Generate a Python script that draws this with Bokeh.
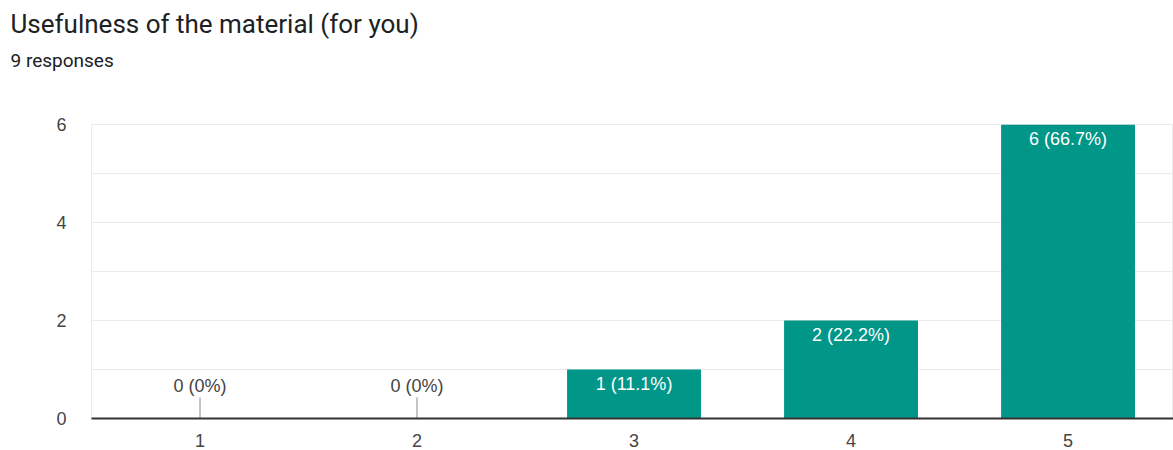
from bokeh.plotting import figure
from bokeh.models import Title, ColumnDataSource, FixedTicker
from bokeh.core.properties import value
from bokeh.embed import file_html
from bokeh.resources import INLINE

title_text = "Usefulness of the material (for you)"
subtitle_text = "9 responses"
categories = [1, 2, 3, 4, 5]
counts = [0, 0, 1, 2, 6]
bar_labels = ["0 (0%)", "0 (0%)", "1 (11.1%)", "2 (22.2%)", "6 (66.7%)"]
y_ticks = [0, 2, 4, 6]

TFONT = "Roboto"
FONT = "Liberation Sans"
TEAL = "#009688"

p = figure(width=1173, height=450, x_range=(0.5, 5.486), y_range=(0, 6),
           output_backend="svg", toolbar_location=None,
           min_border_left=91, min_border_right=0, min_border_bottom=32, min_border_top=124)
p.title = None
# spacer between the frame and the subtitle
p.add_layout(Title(text=" ", text_font_size="1px", standoff=42), "above")
p.add_layout(Title(text=subtitle_text, align="left", offset=-81, text_font=TFONT,
                   text_font_size="19px", text_font_style="normal", text_color="#202124",
                   standoff=16), "above")
p.add_layout(Title(text=title_text, align="left", offset=-81, text_font=TFONT,
                   text_font_size="26px", text_font_style="normal", text_color="#202124",
                   standoff=0), "above")

nonzero = [i for i, c in enumerate(counts) if c > 0]
zero = [i for i, c in enumerate(counts) if c == 0]
src = ColumnDataSource(dict(x=[categories[i] for i in nonzero], top=[counts[i] for i in nonzero],
                            lab=[bar_labels[i] for i in nonzero]))
zsrc = ColumnDataSource(dict(x=[categories[i] for i in zero], top=[counts[i] for i in zero],
                             lab=[bar_labels[i] for i in zero]))

p.vbar(x="x", top="top", bottom=0, width=0.617, source=src, fill_color=TEAL, line_color=None)
p.text(x="x", y="top", text="lab", source=src, text_align="center", text_baseline="top",
       y_offset=4, text_color="white", text_font=value(FONT), text_font_size="18px")

p.segment(x0="x", y0="top", x1="x", y1=0.43, source=zsrc, line_color="#888888", line_width=1)
p.text(x="x", y=0.45, text="lab", source=zsrc, text_align="center", text_baseline="bottom",
       text_color="#444444", text_font=value(FONT), text_font_size="18px")

p.xgrid.visible = False
p.ygrid.ticker = FixedTicker(ticks=[0, 1, 2, 3, 4, 5, 6])
p.ygrid.grid_line_color = "#ebebeb"
p.outline_line_color = "#ebebeb"

p.yaxis.ticker = FixedTicker(ticks=y_ticks)
p.yaxis.axis_line_color = None
p.yaxis.major_tick_line_color = None
p.yaxis.minor_tick_line_color = None
p.yaxis.major_label_standoff = 19
p.yaxis.major_label_text_font = FONT
p.yaxis.major_label_text_font_size = "18px"
p.yaxis.major_label_text_color = "#444444"

p.xaxis.ticker = FixedTicker(ticks=categories)
p.xaxis.axis_line_color = "#333333"
p.xaxis.axis_line_width = 2
p.xaxis.major_tick_line_color = None
p.xaxis.minor_tick_line_color = None
p.xaxis.major_label_standoff = 9
p.xaxis.major_label_text_font = FONT
p.xaxis.major_label_text_font_size = "18px"
p.xaxis.major_label_text_color = "#444444"

open("out.html", "w").write(file_html(p, INLINE))
